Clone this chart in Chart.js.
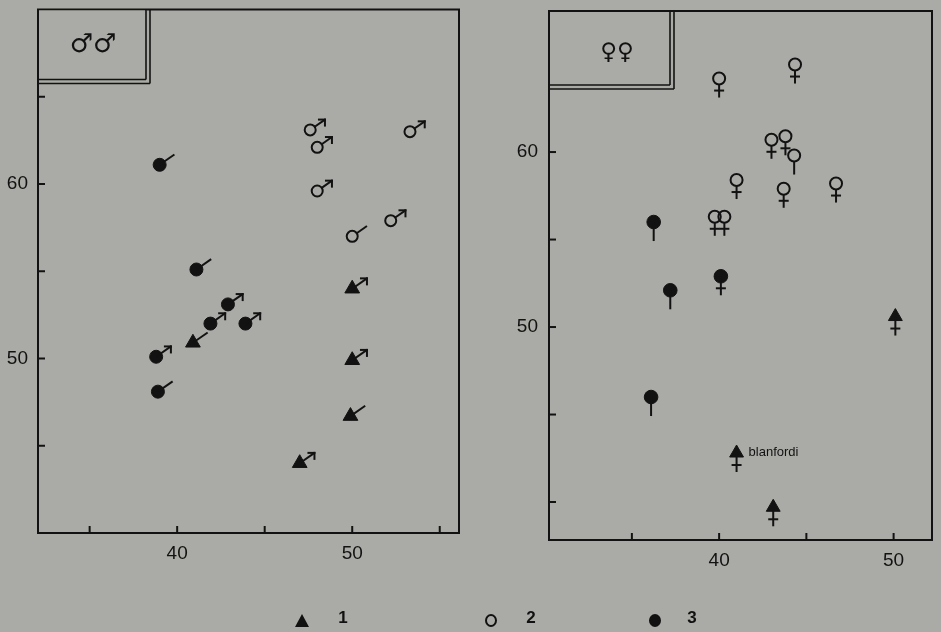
<!DOCTYPE html>
<html><head><meta charset="utf-8">
<script src="https://cdn.jsdelivr.net/npm/chart.js@4/dist/chart.umd.min.js"></script>
<style>
html,body{margin:0;padding:0;background:#aaaba6;}
body{width:941px;height:632px;position:relative;overflow:hidden;}
canvas{position:absolute;top:0;}
#c1{left:0;}
#c2{left:470px;}
.lt{position:absolute;top:608px;height:24px;line-height:24px;font:bold 17px 'Liberation Sans',Arial,sans-serif;color:#111;transform:translateX(-50%);}
.tri{position:absolute;left:295px;top:614px;width:0;height:0;border-left:7px solid transparent;border-right:7px solid transparent;border-bottom:13px solid #111;}
.oc{position:absolute;left:485px;top:614px;width:12px;height:13px;box-sizing:border-box;border:2px solid #111;border-radius:50%;}
.fc{position:absolute;left:649px;top:614px;width:12px;height:13px;background:#111;border-radius:50%;}
</style></head><body>
<canvas id="c1" width="470" height="632"></canvas>
<canvas id="c2" width="471" height="632"></canvas>
<div class="tri"></div><div class="lt" style="left:343px">1</div>
<div class="oc"></div><div class="lt" style="left:531px">2</div>
<div class="fc"></div><div class="lt" style="left:692px">3</div>
<script>
// ---------- data: left panel (males) ----------
const triL_x = [40.9, 50.0, 50.0, 49.9, 47.0];
const triL_y = [50.9, 54.0, 49.9, 46.7, 44.0];
const triL_sym = ['tail','male','male','tail','male'];

const openL_x = [47.6, 48.0, 48.0, 53.3, 52.2, 50.0];
const openL_y = [63.1, 62.1, 59.6, 63.0, 57.9, 57.0];
const openL_sym = ['male','male','male','male','male','tail'];

const fillL_x = [39.0, 41.1, 42.9, 41.9, 43.9, 38.8, 38.9];
const fillL_y = [61.1, 55.1, 53.1, 52.0, 52.0, 50.1, 48.1];
const fillL_sym = ['tail','tail','male','male','male','male','tail'];

const xTicksL = [35, 40, 45, 50, 55];
const xLabelsL = [40, 50];
const yTicksL = [45, 50, 55, 60, 65];
const yLabelsL = [50, 60];
const boxTextL = '♂♂';

// ---------- data: right panel (females) ----------
const triR_x = [50.1, 41.0, 43.1];
const triR_y = [50.6, 42.8, 39.7];
const triR_sym = ['fem','fem','fem'];
const triR_label = ['', 'blanfordi', ''];

const openR_x = [40.0, 44.35, 43.0, 43.8, 44.3, 41.0, 43.7, 46.7, 39.75, 40.3];
const openR_y = [64.2, 65.0, 60.7, 60.9, 59.8, 58.4, 57.9, 58.2, 56.3, 56.3];
const openR_sym = ['fem','fem','fem','fem','stem','fem','fem','fem','fem','fem'];

const fillR_x = [36.25, 37.2, 40.1, 36.1];
const fillR_y = [56.0, 52.1, 52.9, 46.0];
const fillR_sym = ['stem','stem','fem','stem'];

const xTicksR = [35, 40, 45, 50];
const xLabelsR = [40, 50];
const yTicksR = [40, 45, 50, 55, 60];
const yLabelsR = [50, 60];
const boxTextR = '♀♀';

// ---------- drawing ----------
const INK = '#121212';
const BG = '#aaaba6';
const pts = (xs, ys) => xs.map((x, i) => ({x, y: ys[i]}));

function line(ctx, x1, y1, x2, y2){ ctx.beginPath(); ctx.moveTo(x1,y1); ctx.lineTo(x2,y2); ctx.stroke(); }

function drawSym(ctx, x, y, kind, start){
  const th = 35 * Math.PI / 180, c = Math.cos(th), s = Math.sin(th);
  if (kind === 'male' || kind === 'tail'){
    const L = 18;
    const tx = x + c*L, ty = y - s*L;
    line(ctx, x + c*start, y - s*start, tx, ty);
    if (kind === 'male'){
      line(ctx, tx + 1, ty, tx - 7, ty);
      line(ctx, tx, ty - 1, tx, ty + 7);
    }
  } else if (kind === 'fem' || kind === 'stem'){
    line(ctx, x, y + start, x, y + 19);
    if (kind === 'fem') line(ctx, x - 5, y + 12, x + 5, y + 12);
  }
}

const deco = {
  id: 'deco',
  afterDatasetsDraw(chart, args, o){
    const ctx = chart.ctx, a = chart.chartArea;
    const xs = chart.scales.x, ys = chart.scales.y;
    ctx.save();
    ctx.strokeStyle = INK; ctx.fillStyle = INK; ctx.lineWidth = 2; ctx.lineCap = 'butt';
    ctx.strokeRect(a.left, a.top, a.right - a.left, a.bottom - a.top);
    o.xTicks.forEach(v => { const p = xs.getPixelForValue(v); line(ctx, p, a.bottom, p, a.bottom - 7); });
    o.yTicks.forEach(v => { const p = ys.getPixelForValue(v); line(ctx, a.left, p, a.left + 7, p); });
    // corner box with double line
    ctx.fillStyle = BG;
    ctx.fillRect(a.left + 1, a.top + 1, o.boxW, o.boxH);
    ctx.fillStyle = INK;
    ctx.lineWidth = 1.6;
    line(ctx, a.left + o.boxW, a.top, a.left + o.boxW, a.top + o.boxH);
    line(ctx, a.left, a.top + o.boxH, a.left + o.boxW, a.top + o.boxH);
    line(ctx, a.left + o.boxW + 4, a.top, a.left + o.boxW + 4, a.top + o.boxH + 4);
    line(ctx, a.left, a.top + o.boxH + 4, a.left + o.boxW + 4, a.top + o.boxH + 4);
    ctx.font = o.boxFont;
    ctx.textAlign = 'center'; ctx.textBaseline = 'middle';
    ctx.fillText(o.boxText, a.left + o.boxTX, a.top + o.boxTY);
    // symbol decorations
    ctx.lineWidth = 2;
    chart.data.datasets.forEach((ds, di) => {
      const meta = chart.getDatasetMeta(di);
      meta.data.forEach((el, i) => {
        const st = ds.hollow ? ds.pointRadius : 0;
        drawSym(ctx, el.x, el.y, ds.sym[i], st);
        if (ds.labels && ds.labels[i]){
          ctx.font = '13px "Liberation Sans", Arial, sans-serif';
          ctx.textAlign = 'left'; ctx.textBaseline = 'middle';
          ctx.fillText(ds.labels[i], el.x + 12, el.y - 1);
        }
      });
    });
    ctx.restore();
  }
};

function axis(min, max, ticks, labels, fitKey, fitVal, pad){
  return {
    type: 'linear', min, max,
    afterBuildTicks: s => { s.ticks = ticks.map(v => ({value: v})); },
    afterFit: s => {
      s[fitKey] = fitVal;
      s.paddingTop = 0; s.paddingBottom = 0; s.paddingLeft = 0; s.paddingRight = 0;
    },
    grid: {display: false, drawTicks: false},
    border: {display: false},
    ticks: {
      autoSkip: false, maxRotation: 0, padding: pad, color: INK,
      font: {family: '"Liberation Sans", Arial, sans-serif', size: 19},
      callback: v => labels.includes(v) ? String(v) : ''
    }
  };
}

function makeChart(id, sets, sc, pad, plug){
  return new Chart(document.getElementById(id), {
    type: 'scatter',
    data: {datasets: sets},
    options: {
      responsive: false, animation: false, events: [],
      layout: {padding: pad},
      plugins: {legend: {display: false}, tooltip: {enabled: false}, deco: plug},
      scales: sc
    },
    plugins: [deco]
  });
}

const triSet = (d, sym, r, labels) => ({data: d, sym, labels, pointStyle: 'triangle', pointRadius: r, backgroundColor: INK, borderColor: INK, borderWidth: 1});
const openSet = (d, sym, r) => ({data: d, sym, hollow: true, pointStyle: 'circle', pointRadius: r, backgroundColor: 'rgba(0,0,0,0)', borderColor: INK, borderWidth: 2});
const fillSet = (d, sym, r) => ({data: d, sym, pointStyle: 'circle', pointRadius: r, backgroundColor: INK, borderColor: INK, borderWidth: 1});

makeChart('c1', [
    triSet(pts(triL_x, triL_y), triL_sym, 8.5),
    openSet(pts(openL_x, openL_y), openL_sym, 5.5),
    fillSet(pts(fillL_x, fillL_y), fillL_sym, 6.5)
  ], {
    x: axis(32.05, 56.1, xTicksL, xLabelsL, 'height', 99, 9),
    y: axis(40, 70, yTicksL, yLabelsL, 'width', 38, 10)
  },
  {top: 8, right: 11, left: 0, bottom: 0},
  {xTicks: xTicksL, yTicks: yTicksL, boxW: 108, boxH: 70, boxText: boxTextL, boxTX: 55, boxTY: 36, boxFont: '26px "DejaVu Sans", sans-serif'}
);

makeChart('c2', [
    triSet(pts(triR_x, triR_y), triR_sym, 8, triR_label),
    openSet(pts(openR_x, openR_y), openR_sym, 6),
    fillSet(pts(fillR_x, fillR_y), fillR_sym, 6.8)
  ], {
    x: axis(30.25, 52.2, xTicksR, xLabelsR, 'height', 92, 9),
    y: axis(37.83, 68.06, yTicksR, yLabelsR, 'width', 79, 11)
  },
  {top: 11, right: 5, left: 0, bottom: 0},
  {xTicks: xTicksR, yTicks: yTicksR, boxW: 121, boxH: 74, boxText: boxTextR, boxTX: 68, boxTY: 42, boxFont: '23px "DejaVu Sans", sans-serif'}
);
</script>
</body></html>
